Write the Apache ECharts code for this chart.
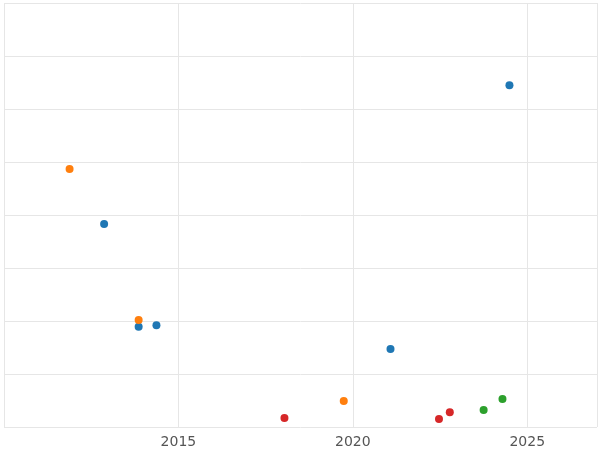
<!DOCTYPE html>
<html>
<head>
<meta charset="utf-8">
<script src="https://cdn.jsdelivr.net/npm/echarts@6/dist/echarts.min.js"></script>
<style>html,body{margin:0;padding:0;background:#fff}#chart{width:600px;height:450px}</style>
</head>
<body>
<div id="chart"></div>
<script>
// points per colour group: [year, value]
var blueData = [[2024.49, 6.45], [2012.87, 3.83], [2013.86, 1.89], [2014.37, 1.92], [2021.08, 1.47]];
var orangeData = [[2011.88, 4.87], [2013.86, 2.02], [2019.74, 0.49]];
var greenData = [[2023.75, 0.32], [2024.29, 0.53]];
var redData = [[2018.04, 0.17], [2022.47, 0.15], [2022.78, 0.28]];
var xTicks = [2015, 2020, 2025];

var myChart = echarts.init(document.getElementById('chart'));
function ser(data, color) {
	return {type: 'scatter', data: data, symbolSize: 8, itemStyle: {color: color, opacity: 1}};
}
var option = {
	animation: false,
	grid: {left: 4, right: -2, top: 3, bottom: 23},
	xAxis: {
		type: 'value', min: 2010, max: 2027, interval: 5,
		axisLine: {show: false}, axisTick: {show: false},
		axisLabel: {
			color: '#555', fontSize: 14, fontFamily: 'DejaVu Sans', margin: 8,
			formatter: function(v) { return xTicks.indexOf(v) >= 0 ? String(v) : ''; }
		},
		splitLine: {lineStyle: {color: '#e6e6e6'}}
	},
	yAxis: {
		type: 'value', min: 0, max: 8, interval: 1,
		axisLine: {show: false}, axisTick: {show: false}, axisLabel: {show: false},
		splitLine: {lineStyle: {color: '#e6e6e6'}}
	},
	series: [
		ser(blueData, '#1f77b4'),
		ser(orangeData, '#ff7f0e'),
		ser(greenData, '#2ca02c'),
		ser(redData, '#d62728')
	]
};
myChart.setOption(option);
</script>
</body>
</html>
